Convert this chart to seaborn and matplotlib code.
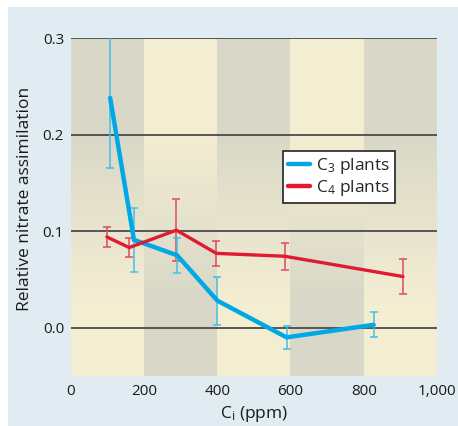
import numpy as np
import pandas as pd
import matplotlib
matplotlib.use("Agg")
import matplotlib.pyplot as plt
import seaborn as sns
from matplotlib.colors import to_rgb
from matplotlib.lines import Line2D
from matplotlib.patches import Rectangle
from matplotlib.ticker import FuncFormatter

sns.set_theme(style="white")
plt.rcParams['font.family'] = ['Open Sans', 'DejaVu Sans']
plt.rcParams['mathtext.fontset'] = 'custom'
plt.rcParams['mathtext.rm'] = 'Open Sans'
plt.rcParams['mathtext.it'] = 'Open Sans'

# data
c3_ci = [107, 172, 290, 400, 589, 827]
c3_val = [0.238, 0.091, 0.075, 0.028, -0.010, 0.003]
c3_err = [0.073, 0.033, 0.018, 0.025, 0.012, 0.013]

c4_ci = [98, 159, 288, 397, 584, 907]
c4_val = [0.094, 0.083, 0.101, 0.077, 0.074, 0.053]
c4_err = [0.010, 0.010, 0.032, 0.013, 0.014, 0.018]

xticks = [0, 200, 400, 600, 800, 1000]
yticks = [0.0, 0.1, 0.2, 0.3]

blue = "#00a8e6"
blue_err = "#45bde6"
red = "#e01a30"
red_err = "#e04a5c"
panel = "#e0ecf1"
gray = np.array(to_rgb("#d9d8c8"))
cream = np.array(to_rgb("#f3edd2"))

df = pd.concat([
    pd.DataFrame({"ci": c3_ci, "val": c3_val, "err": c3_err, "kind": "C3"}),
    pd.DataFrame({"ci": c4_ci, "val": c4_val, "err": c4_err, "kind": "C4"}),
])

fig = plt.figure(figsize=(4.58, 4.26), dpi=100)
fig.patch.set_facecolor("white")
fig.patches.append(Rectangle((8 / 458, 0), 1, 1 - 7 / 426, transform=fig.transFigure,
                             facecolor=panel, edgecolor="none", zorder=-10))
ax = fig.add_axes([71 / 458, 50 / 426, 366 / 458, 338 / 426])

ylo, yhi = -0.05, 0.3
# shaded columns, fading from one pattern at the top to the other at the bottom
ny = 400
ys = np.linspace(yhi, ylo, ny)
w = np.clip((ys - 0.03) / (0.2 - 0.03), 0, 1)
img = np.zeros((ny, 5, 3))
for i in range(5):
    g = w if i % 2 == 0 else 1 - w
    img[:, i, :] = g[:, None] * gray + (1 - g[:, None]) * cream
ax.imshow(img, extent=[0, 1000, ylo, yhi], aspect="auto", interpolation="nearest", zorder=0)

for y in yticks:
    ax.axhline(y, color="#4a4a4a", lw=1.3, zorder=1)

ax.errorbar(c4_ci, c4_val, yerr=c4_err, fmt="none", ecolor=red_err, elinewidth=1.1,
            capsize=3, capthick=1.1, zorder=2)
ax.errorbar(c3_ci, c3_val, yerr=c3_err, fmt="none", ecolor=blue_err, elinewidth=1.1,
            capsize=3, capthick=1.1, zorder=2)
sns.lineplot(data=df, x="ci", y="val", hue="kind", palette=[blue, red], ax=ax,
             sort=False, estimator=None, legend=False, zorder=3)
for line, lw in zip(ax.lines[-2:], [3.2, 2.4]):
    line.set_linewidth(lw)

ax.set_xlim(0, 1000)
ax.set_ylim(ylo, yhi)
ax.set_xticks(xticks)
ax.set_yticks(yticks)
ax.xaxis.set_major_formatter(FuncFormatter(lambda v, p: f"{int(v):,}"))
ax.yaxis.set_major_formatter(FuncFormatter(lambda v, p: f"{v:.1f}"))
ax.tick_params(length=0, labelsize=11, colors="#1a1a1a", pad=6)
ax.tick_params(axis="y", pad=5)
for s in ax.spines.values():
    s.set_visible(False)
ax.set_facecolor("none")
ax.set_xlabel("C$_\\mathrm{i}$ (ppm)", fontsize=12.5, color="#1a1a1a", labelpad=3)
ax.set_ylabel("Relative nitrate assimilation", fontsize=12.5, color="#1a1a1a")
ax.yaxis.set_label_coords(-0.104, 0.524)

handles = [Line2D([], [], color=blue, lw=3.2), Line2D([], [], color=red, lw=3.2)]
leg = ax.legend(handles, ["C$_3$ plants", "C$_4$ plants"], loc="upper left",
                bbox_to_anchor=(0.578, 0.665), fontsize=12.5, frameon=True, fancybox=False,
                handlelength=1.3, handletextpad=0.3, borderpad=0.3, labelspacing=0.1,
                borderaxespad=0)
leg.get_frame().set_edgecolor("#222222")
leg.get_frame().set_linewidth(1.2)
leg.get_frame().set_facecolor("white")
leg.get_frame().set_alpha(1)

fig.savefig("out.png", dpi=100)
